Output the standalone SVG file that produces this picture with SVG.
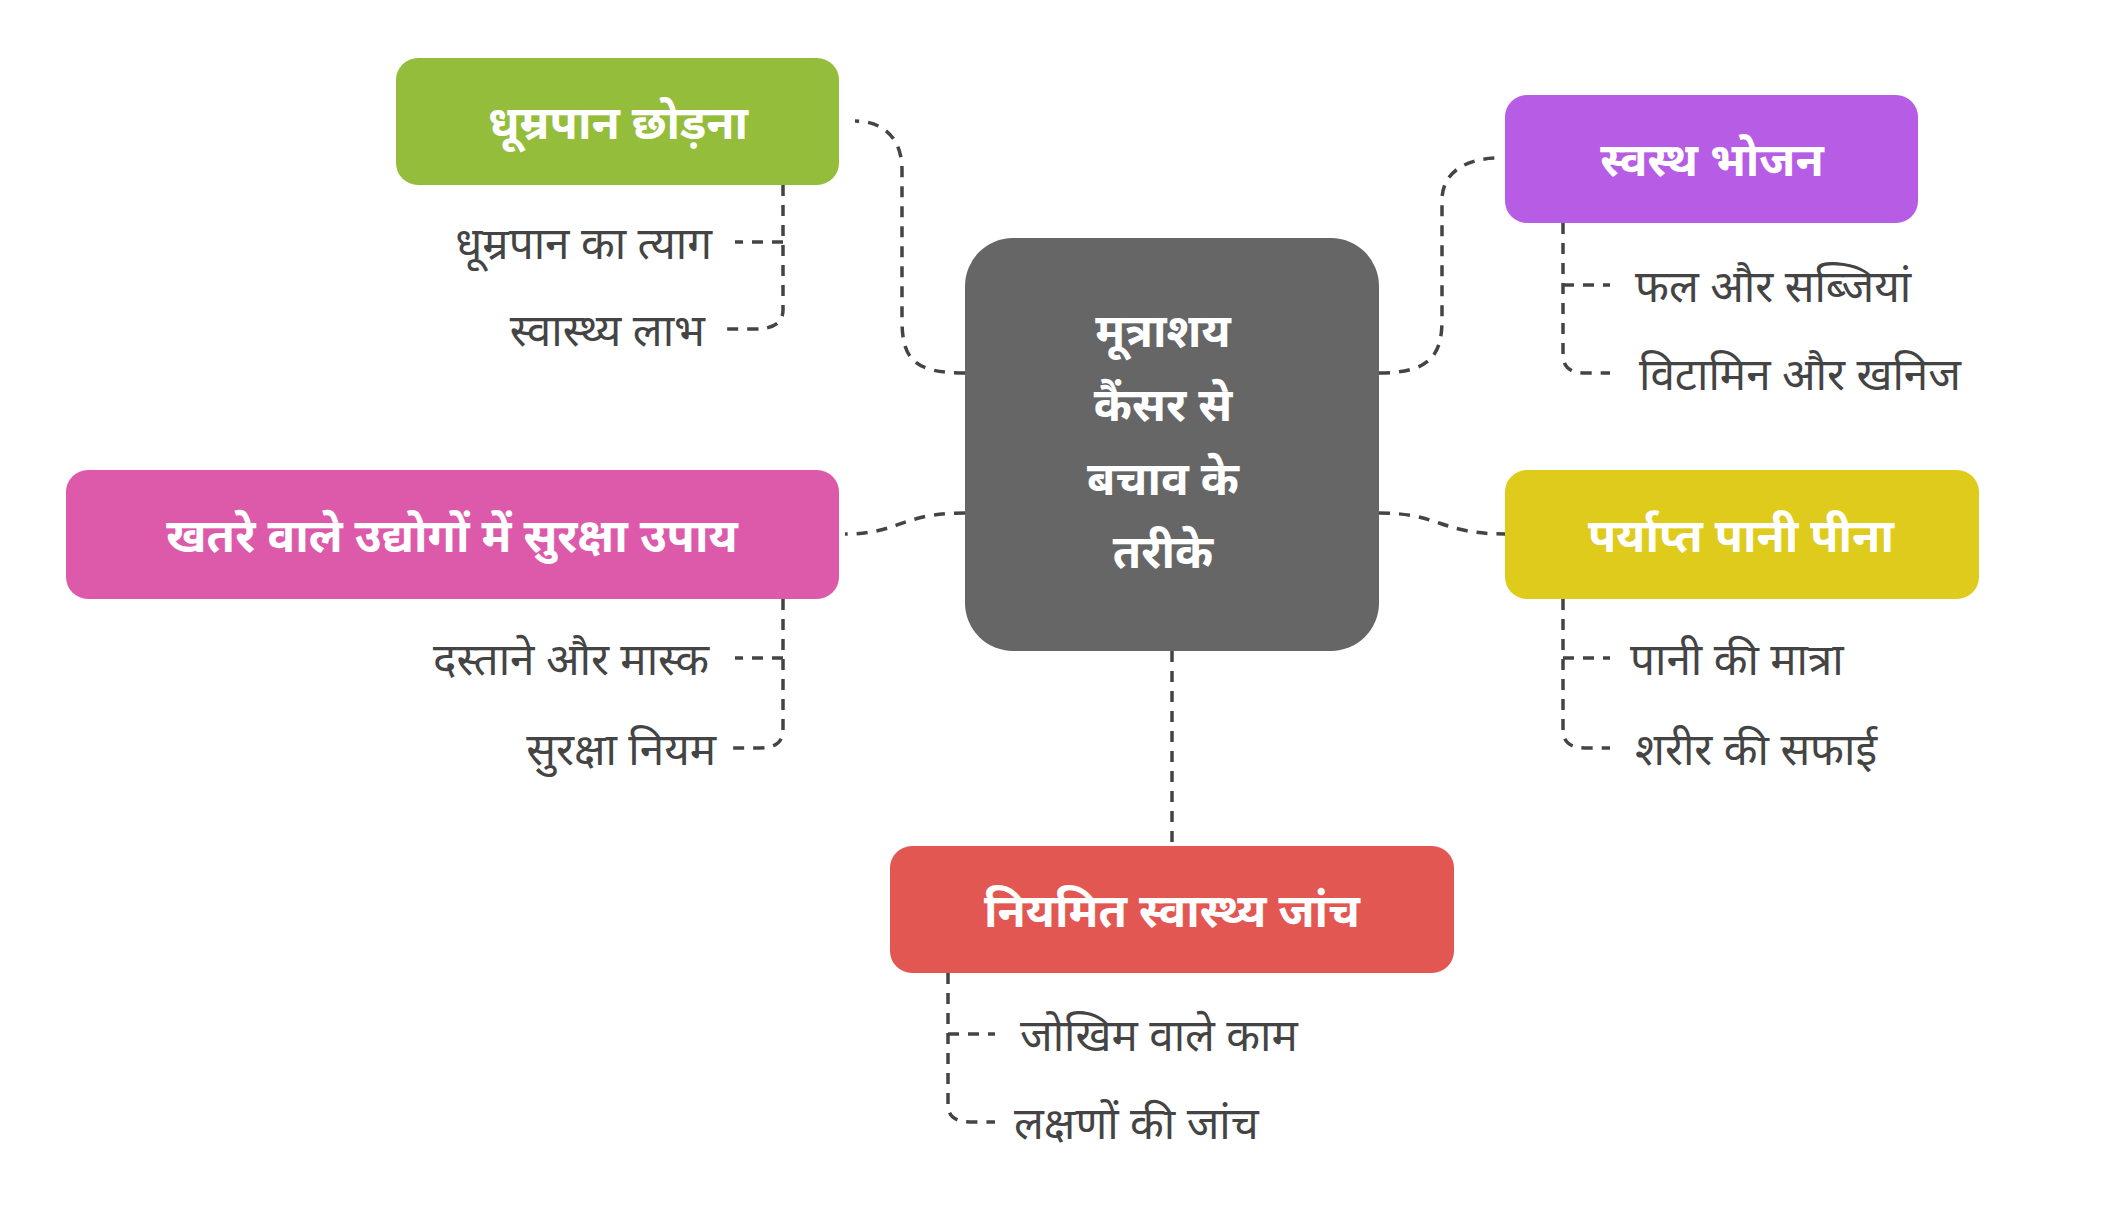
<svg xmlns="http://www.w3.org/2000/svg" width="2105" height="1220" viewBox="0 0 2105 1220">
<style>
.h{font-family:"Noto Sans","Noto Sans Devanagari",sans-serif;font-weight:bold;fill:#fff;font-size:46px;text-anchor:middle;dominant-baseline:central}
.s{font-family:"Noto Sans","Noto Sans Devanagari",sans-serif;fill:#444;font-size:44px;dominant-baseline:central}
.c{fill:none;stroke:#444;stroke-width:3.5;stroke-dasharray:11 9}
.e{text-anchor:end}
</style>
<rect width="2105" height="1220" fill="#fff"/>
<g id="connectors">
<path class="c" d="M965,373 C915,373 902,360 902,320 L902,170 C902,135 880,121 855,121"/>
<path class="c" d="M1379,373 C1430,373 1442,355 1442,320 L1442,200 C1442,170 1470,158 1498,158"/>
<path class="c" d="M965,513 C900,513 900,534 845,534"/>
<path class="c" d="M1379,513 C1440,513 1440,534 1505,534"/>
<path class="c" d="M1172,651 L1172,846"/>
<path class="c" d="M783,185 L783,310 Q783,329 755,329 L722,329 M783,242 L735,242"/>
<path class="c" d="M1563,223 L1563,355 Q1563,373 1585,373 L1610,373 M1563,285 L1610,285"/>
<path class="c" d="M783,599 L783,730 Q783,748 760,748 L728,748 M783,658 L735,658"/>
<path class="c" d="M1563,599 L1563,730 Q1563,748 1585,748 L1610,748 M1563,658 L1610,658"/>
<path class="c" d="M948,973 L948,1105 Q948,1122 970,1122 L995,1122 M948,1034 L995,1034"/>
</g>
<g id="center"><rect x="965" y="238" width="414" height="413" rx="48" fill="#666"/>
<text class="h" x="1163" y="329" font-size="56">मूत्राशय</text>
<text class="h" x="1163" y="403" font-size="56">कैंसर से</text>
<text class="h" x="1163" y="477" font-size="56">बचाव के</text>
<text class="h" x="1163" y="550" font-size="56">तरीके</text></g>
<g id="n1"><rect x="396" y="58" width="443" height="127" rx="22" fill="#95bd3c"/><text class="h" x="618" y="121">धूम्रपान छोड़ना</text></g>
<g id="n2"><rect x="1505" y="95" width="413" height="128" rx="22" fill="#b65ce5"/><text class="h" x="1712" y="158">स्वस्थ भोजन</text></g>
<g id="n3"><rect x="66" y="470" width="773" height="129" rx="22" fill="#dd5aab"/><text class="h" x="452" y="534">खतरे वाले उद्योगों में सुरक्षा उपाय</text></g>
<g id="n4"><rect x="1505" y="470" width="474" height="129" rx="22" fill="#dfcb1b"/><text class="h" x="1741" y="534">पर्याप्त पानी पीना</text></g>
<g id="n5"><rect x="890" y="846" width="564" height="127" rx="22" fill="#e35752"/><text class="h" x="1172" y="909">नियमित स्वास्थ्य जांच</text></g>
<g id="t1"><text class="s e" x="712" y="242">धूम्रपान का त्याग</text></g>
<g id="t2"><text class="s e" x="705" y="329">स्वास्थ्य लाभ</text></g>
<g id="t3"><text class="s" x="1635" y="285">फल और सब्जियां</text></g>
<g id="t4"><text class="s" x="1639" y="373">विटामिन और खनिज</text></g>
<g id="t5"><text class="s e" x="709" y="658">दस्ताने और मास्क</text></g>
<g id="t6"><text class="s e" x="716" y="748">सुरक्षा नियम</text></g>
<g id="t7"><text class="s" x="1630" y="658">पानी की मात्रा</text></g>
<g id="t8"><text class="s" x="1635" y="748">शरीर की सफाई</text></g>
<g id="t9"><text class="s" x="1020" y="1034">जोखिम वाले काम</text></g>
<g id="t10"><text class="s" x="1014" y="1122">लक्षणों की जांच</text></g>
</svg>
